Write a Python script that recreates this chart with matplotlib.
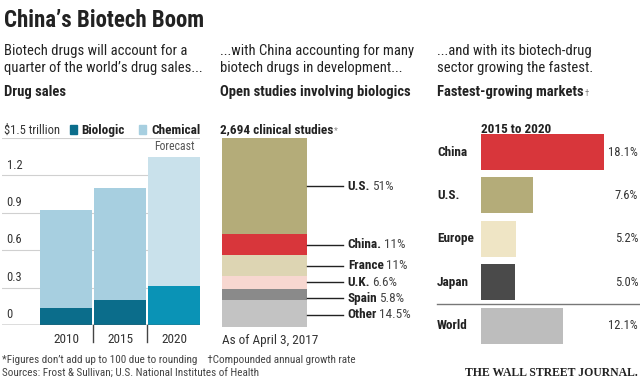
import matplotlib
matplotlib.use("Agg")
import matplotlib.pyplot as plt
from matplotlib.transforms import offset_copy

plt.rcParams['font.family'] = ['Roboto Condensed', 'DejaVu Sans']

W, H = 640, 381
TXT = "#222222"

# --- data ---
years = ["2010", "2015", "2020"]
biologic = [0.14, 0.20, 0.31]
total_sales = [0.92, 1.10, 1.35]
grid_vals = [0.3, 0.6, 0.9, 1.2]

study_countries = ["U.S.", "China.", "France", "U.K.", "Spain", "Other"]
study_share = [51, 11, 11, 6.6, 5.8, 14.5]
study_labels = ["51%", "11%", "11%", "6.6%", "5.8%", "14.5%"]
study_colors = ["#b4ac79", "#d8363b", "#ddd5b3", "#f7d7d0", "#8a8a8a", "#c3c3c3"]

markets = ["China", "U.S.", "Europe", "Japan", "World"]
growth = [18.1, 7.6, 5.2, 5.0, 12.1]
market_colors = ["#d8363b", "#b4ac79", "#efe5c5", "#4a4a4a", "#bdbdbd"]


def box(x0, y0, x1, y1):
    return [x0 / W, 1 - y1 / H, (x1 - x0) / W, (y1 - y0) / H]


def ftext(x, y, s, **kw):
    kw.setdefault("color", TXT)
    kw.setdefault("va", "baseline")
    return fig.text(x / W, 1 - y / H, s, **kw)


def after(t, s, gap=1, **kw):
    # small mark right after a figure text, same baseline
    bb = t.get_window_extent(renderer)
    x, y = t.get_position()
    return fig.text((bb.x1 + gap) / W, y, s, va=t.get_va(), **kw)


fig = plt.figure(figsize=(W / 100, H / 100), dpi=100)
renderer = fig.canvas.get_renderer()

# headings
ftext(4, 27, "China\u2019s Biotech Boom", fontsize=16.5, fontweight="bold")
intro = ["Biotech drugs will account for a\nquarter of the world\u2019s drug sales...",
         "...with China accounting for many\nbiotech drugs in development...",
         "...and with its biotech-drug\nsector growing the fastest."]
heads = ["Drug sales", "Open studies involving biologics", "Fastest-growing markets"]
head_txt = []
for x, s, h in zip([4, 220, 437], intro, heads):
    ftext(x, 55, s.split("\n")[0], fontsize=10.5)
    ftext(x, 72, s.split("\n")[1], fontsize=10.5)
    head_txt.append(ftext(x, 96, h, fontsize=10.5, fontweight="bold"))
after(head_txt[2], "\u2020", fontsize=6.5, color="#888888")

# --- left: drug sales ---
ax1 = fig.add_axes(box(2, 138, 200, 325))
xs = range(len(years))
chem = [t - b for t, b in zip(total_sales, biologic)]
bio_cols = ["#0b6d8b", "#0b6d8b", "#0a93b6"]
chem_cols = ["#a7cfe0", "#a7cfe0", "#c9e1eb"]
ax1.bar(xs, biologic, width=0.96, color=bio_cols, zorder=3)
ax1.bar(xs, chem, bottom=biologic, width=0.96, color=chem_cols, zorder=3)
ax1.set_xlim(-1.185, 2.48)
ax1.set_ylim(0, 1.5)
for v in grid_vals:
    ax1.axhline(v, color="#d0d0d0", lw=0.8, zorder=1)
    ax1.text(-1.1, v + 0.03, f"{v:g}", fontsize=9, color="#333333", va="bottom")
ax1.text(-1.1, 0.03, "0", fontsize=9, color="#333333", va="bottom")
ax1.axhline(1.5, color="#d0d0d0", lw=0.8, zorder=1)
ax1.axhline(0, color="#555555", lw=1, zorder=4)
for i, y in enumerate(years):
    ax1.text(i, -0.145, y, fontsize=9.5, color="#333333", ha="center", va="baseline", clip_on=False)
for x in [0.5, 1.5]:
    ax1.plot([x, x], [0, -0.14], color="#444444", lw=1, clip_on=False)
ax1.text(2, total_sales[2] + 0.05, "Forecast", fontsize=8.5, color="#555555", ha="center")
ax1.axis("off")

ftext(4, 134, "$1.5 trillion", fontsize=9, color="#333333")
fig.patches.append(plt.Rectangle((70 / W, 1 - 134 / H), 7 / W, 9 / H, color="#0b6d8b", transform=fig.transFigure))
ftext(81, 134, "Biologic", fontsize=9.5, fontweight="bold")
fig.patches.append(plt.Rectangle((139 / W, 1 - 134 / H), 7 / W, 9 / H, color="#a7cfe0", transform=fig.transFigure))
ftext(151, 134, "Chemical", fontsize=9.5, fontweight="bold")

# --- middle: clinical studies ---
ax2 = fig.add_axes(box(210, 138, 420, 327))
ax2.set_xlim(-0.641, 1.829)
ax2.set_ylim(sum(study_share), 0)
ax2.axis("off")
bottom = 0
min_gap = 8.5  # keep labels from crowding
last = -100
for name, share, lab, col in zip(study_countries, study_share, study_labels, study_colors):
    ax2.bar(0, share, bottom=bottom, width=1, color=col)
    ly = max(bottom + share / 2, last + min_gap)
    last = ly
    ax2.plot([0.5, 0.924], [ly, ly], color="#222222", lw=1)
    t = ax2.text(0.98, ly, name, fontsize=9.5, fontweight="bold", color=TXT, va="center")
    bb = t.get_window_extent(renderer)
    ax2.text(0.98, ly, lab, fontsize=9.5, color="#444444", va="center",
             transform=offset_copy(ax2.transData, fig=fig, x=bb.width + 2, units="dots"))
    bottom += share
t = ftext(220, 133, "2,694 clinical studies", fontsize=9.5, fontweight="bold")
after(t, "*", fontsize=6.5, color="#888888")
ftext(222, 344, "As of April 3, 2017", fontsize=9.5, color="#333333")

# --- right: growth ---
ax3 = fig.add_axes(box(481, 130, 640, 350))
ypos = range(len(markets))
ax3.barh(ypos, growth, height=0.83, color=market_colors)
ax3.set_xlim(0, 159 / 6.8)
ax3.set_ylim(4.56, -0.507)
for i, g in enumerate(growth):
    ax3.text(23.1, i, f"{g}%", fontsize=9, color="#333333", ha="right", va="center")
ax3.axis("off")
ax3.plot([-44 / 6.8, 159 / 6.8], [3.5, 3.5], color="#777777", lw=1, clip_on=False)
for i, m in enumerate(markets):
    ax3.text(-44 / 6.8, i, m, fontsize=9.5, fontweight="bold", color=TXT, va="center")
ftext(481, 133, "2015 to 2020", fontsize=9.5, fontweight="bold")

# --- footer ---
ftext(2, 363, "*Figures don\u2019t add up to 100 due to rounding    \u2020Compounded annual growth rate",
      fontsize=8, color="#444444")
ftext(2, 377, "Sources: Frost & Sullivan; U.S. National Institutes of Health", fontsize=8, color="#444444")
ftext(638, 376, "THE WALL STREET JOURNAL.", fontsize=8.5, fontweight="bold",
      family="Liberation Serif", ha="right")

fig.savefig("out.png", dpi=100)
